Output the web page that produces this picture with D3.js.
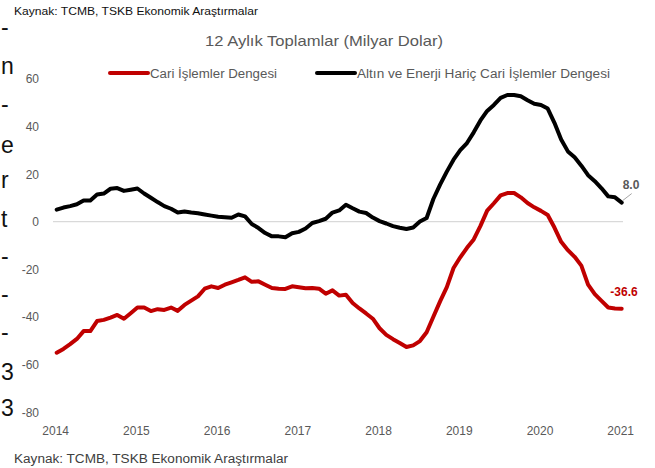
<!DOCTYPE html>
<html><head><meta charset="utf-8">
<script src="https://cdn.jsdelivr.net/npm/d3@7"></script>
<style>
html,body{margin:0;padding:0;background:#fff;}
svg{display:block;font-family:"Liberation Sans",Arial,sans-serif;}
</style></head>
<body><svg id="c" width="655" height="468"></svg>
<script>
const years = ["2014","2015","2016","2017","2018","2019","2020","2021"];
const yTicks = [60,40,20,0,-20,-40,-60,-80];
const seriesNames = ["Cari İşlemler Dengesi","Altın ve Enerji Hariç Cari İşlemler Dengesi"];
// monthly 12-month rolling sums, Jan 2014 .. (85 points)
const cari = [-55.1,-53.5,-51.5,-49.3,-46.0,-46.0,-41.8,-41.3,-40.3,-39.2,-40.8,-38.5,
  -36.1,-36.1,-37.6,-36.8,-37.1,-36.1,-37.5,-35.0,-33.2,-31.4,-28.2,-27.2,
  -27.9,-26.5,-25.5,-24.5,-23.4,-25.3,-25.1,-26.5,-27.9,-28.2,-28.3,-27.2,
  -27.6,-28.0,-27.9,-28.2,-30.3,-28.9,-31.1,-30.7,-34.2,-36.5,-38.6,-40.8,
  -44.8,-47.6,-49.4,-51.0,-52.7,-52.0,-50.2,-46.5,-40.0,-33.5,-27.5,-19.5,
  -15.0,-11.0,-7.5,-1.8,4.6,7.7,11.0,12.0,12.0,10.2,7.8,6.0,
  4.5,2.8,-2.5,-8.5,-12.0,-14.8,-18.5,-26.5,-30.5,-33.3,-36.1,-36.5,-36.6];
const haric = [5.0,5.9,6.5,7.3,8.9,8.9,11.4,11.8,13.8,14.1,12.9,13.4,
  13.9,11.8,10.0,8.2,6.5,5.4,3.8,4.2,3.8,3.5,3.0,2.5,
  2.0,1.8,1.6,3.0,2.2,-1.0,-2.7,-4.8,-6.2,-6.2,-6.6,-4.9,
  -4.3,-2.9,-0.6,0.2,1.2,3.8,4.7,7.1,5.6,4.2,3.6,1.7,
  0.2,-0.8,-1.9,-2.6,-3.1,-2.5,0.0,1.5,9.5,15.5,21.0,26.0,
  30.0,33.0,37.5,42.5,46.5,49.0,52.0,53.2,53.2,52.7,51.0,49.5,
  49.0,47.5,41.5,34.5,29.5,27.0,23.5,19.5,17.0,14.0,10.6,10.2,8.0];
const endLabels = ["-36.6","8.0"];
const strayChars = ["-","n","-","e","r","t","-","-","-","3","3"];

const svg = d3.select("#c");
const x = d3.scaleLinear().domain([0,84]).range([56.7,621.7]);
const y = d3.scaleLinear().domain([-80,60]).range([412,78.8]);
const grey = "#595959";

// stray cropped text on left edge
const strayY = [35,74,112,153,188,227,264,302,340,380,416];
svg.append("g").selectAll("text").data(strayChars).join("text")
  .attr("x",1).attr("y",(d,i)=>strayY[i])
  .attr("text-anchor","start").attr("font-size",23).attr("fill","#111").text(d=>d);

// source top
svg.append("text").attr("x",14).attr("y",15).attr("font-size",11.5).attr("fill","#111")
  .attr("textLength",244).attr("lengthAdjust","spacingAndGlyphs")
  .text("Kaynak: TCMB, TSKB Ekonomik Araştırmalar");
// title
svg.append("text").attr("x",324).attr("y",46).attr("text-anchor","middle")
  .attr("font-size",14.5).attr("fill",grey)
  .attr("textLength",238).attr("lengthAdjust","spacingAndGlyphs")
  .text("12 Aylık Toplamlar (Milyar Dolar)");

// legend
const leg = [{x1:110,x2:148,tx:150,tw:127,c:"#c00000"},{x1:317,x2:355,tx:357,tw:253,c:"#000"}];
leg.forEach((l,i)=>{
  svg.append("line").attr("x1",l.x1).attr("x2",l.x2).attr("y1",73).attr("y2",73)
    .attr("stroke",l.c).attr("stroke-width",4).attr("stroke-linecap","round");
  svg.append("text").attr("x",l.tx).attr("y",77.5).attr("font-size",12.5).attr("fill",grey)
    .attr("textLength",l.tw).attr("lengthAdjust","spacingAndGlyphs").text(seriesNames[i]);
});

// y axis labels
svg.append("g").selectAll("text").data(yTicks).join("text")
  .attr("x",39).attr("y",d=>y(d)+4.5).attr("text-anchor","end")
  .attr("font-size",12).attr("fill",grey).text(d=>d);
// zero line
svg.append("line").attr("x1",53).attr("x2",623).attr("y1",y(0)).attr("y2",y(0))
  .attr("stroke","#d9d9d9").attr("stroke-width",1.3);
// x labels
svg.append("g").selectAll("text").data(years).join("text")
  .attr("x",(d,i)=>x(i*12)-1).attr("y",435).attr("text-anchor","middle")
  .attr("font-size",12).attr("fill",grey).text(d=>d);

const line = d3.line().x((d,i)=>x(i)).y(d=>y(d));
svg.append("path").datum(haric).attr("d",line).attr("fill","none")
  .attr("stroke","#000").attr("stroke-width",4).attr("stroke-linejoin","round").attr("stroke-linecap","round");
svg.append("path").datum(cari).attr("d",line).attr("fill","none")
  .attr("stroke","#c00000").attr("stroke-width",4).attr("stroke-linejoin","round").attr("stroke-linecap","round");

// end labels
const lastI = 84;
svg.append("line").attr("x1",x(lastI)+1).attr("y1",y(haric[lastI])-2).attr("x2",x(lastI)+10).attr("y2",y(haric[lastI])-9)
  .attr("stroke","#a6a6a6").attr("stroke-width",1);
svg.append("text").attr("x",631).attr("y",189).attr("text-anchor","middle")
  .attr("font-size",12).attr("font-weight","bold").attr("fill",grey).text(endLabels[1]);
svg.append("text").attr("x",624).attr("y",296).attr("text-anchor","middle")
  .attr("font-size",12).attr("font-weight","bold").attr("fill","#c00000").text(endLabels[0]);

// source bottom
svg.append("text").attr("x",14).attr("y",463).attr("font-size",12).attr("fill","#404040")
  .attr("textLength",274).attr("lengthAdjust","spacingAndGlyphs")
  .text("Kaynak: TCMB, TSKB Ekonomik Araştırmalar");
</script></body></html>
